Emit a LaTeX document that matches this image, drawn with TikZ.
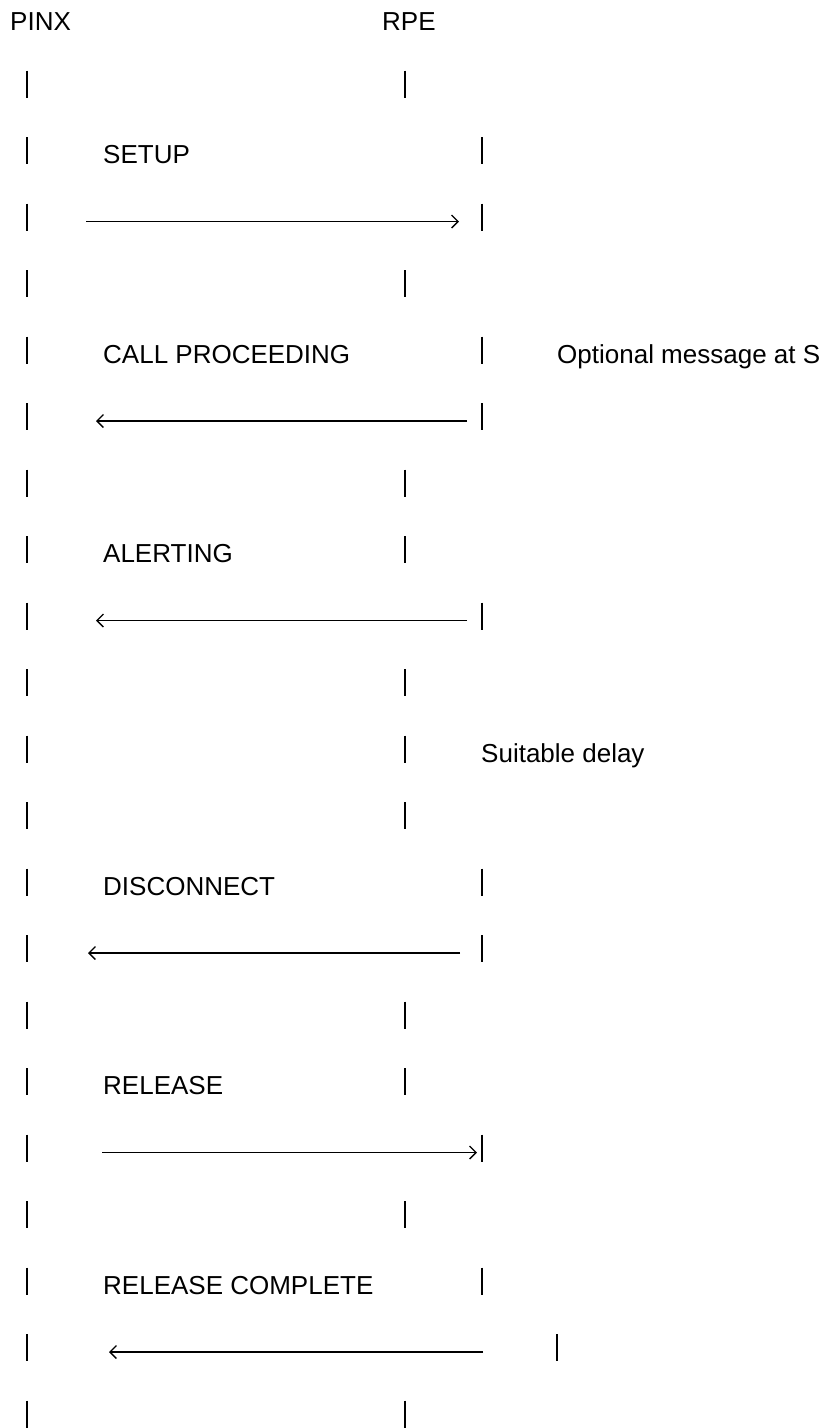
\documentclass[tikz,border=0pt]{standalone}
\usepackage{fontspec}
\setmainfont{Liberation Sans}
\usetikzlibrary{arrows.meta}
\newcommand\lifebar[2]{\draw[bar] (#1,{#2-13.5}) -- ++(0,27);}
\begin{document}
\begin{tikzpicture}[x=1pt,y=-1pt,
  lbl/.style={anchor=base west, inner sep=0pt, font=\fontsize{26}{30}\selectfont},
  bar/.style={line width=2.4pt},
  msg/.style={line width=1.5pt, -{Straight Barb[length=6.5pt,width=13pt,line width=1.3pt]}}]
\useasboundingbox (0,0) rectangle (827,1428);
% headers
\node[lbl] (pinx) at (10,30.5) {PINX};
\node[lbl] (rpe) at (382,30.5) {RPE};
% left lifeline fragments
\foreach \k in {1,...,21} {\lifebar{27}{84+66.5*(\k-1)}}
% middle column bars (x=405)
\foreach \y in {84,283.5,483,549.5,682.5,749,815.5,1015,1081.5,1214.5,1414} {\lifebar{405}{\y}}
% right column bars (x=482)
\foreach \y in {150.5,217,350,416.5,616,882,948.5,1148,1281} {\lifebar{482}{\y}}
\lifebar{557}{1347.5}
% labels
\node[lbl] (setup) at (103,163.5) {SETUP};
\node[lbl] (callproc) at (103,363) {CALL PROCEEDING};
\node[lbl] (optional) at (557,363) {Optional message at S};
\node[lbl] (alerting) at (103,562.5) {ALERTING};
\node[lbl] (delay) at (481,762) {Suitable delay};
\node[lbl] (disconnect) at (103,895) {DISCONNECT};
\node[lbl] (release) at (103,1094.5) {RELEASE};
\node[lbl] (relcomp) at (103,1294) {RELEASE COMPLETE};
% arrow end points
\coordinate (s1) at (86,221.5);   \coordinate (e1) at (459,221.5);
\coordinate (s2) at (467,421);    \coordinate (e2) at (96,421);
\coordinate (s3) at (467,620.5);  \coordinate (e3) at (96,620.5);
\coordinate (s4) at (460,953);    \coordinate (e4) at (88,953);
\coordinate (s5) at (102,1152.5); \coordinate (e5) at (477,1152.5);
\coordinate (s6) at (483,1352);   \coordinate (e6) at (109,1352);
\draw[msg] (s1) -- (e1);
\draw[msg] (s2) -- (e2);
\draw[msg] (s3) -- (e3);
\draw[msg] (s4) -- (e4);
\draw[msg] (s5) -- (e5);
\draw[msg] (s6) -- (e6);
\end{tikzpicture}
\end{document}
